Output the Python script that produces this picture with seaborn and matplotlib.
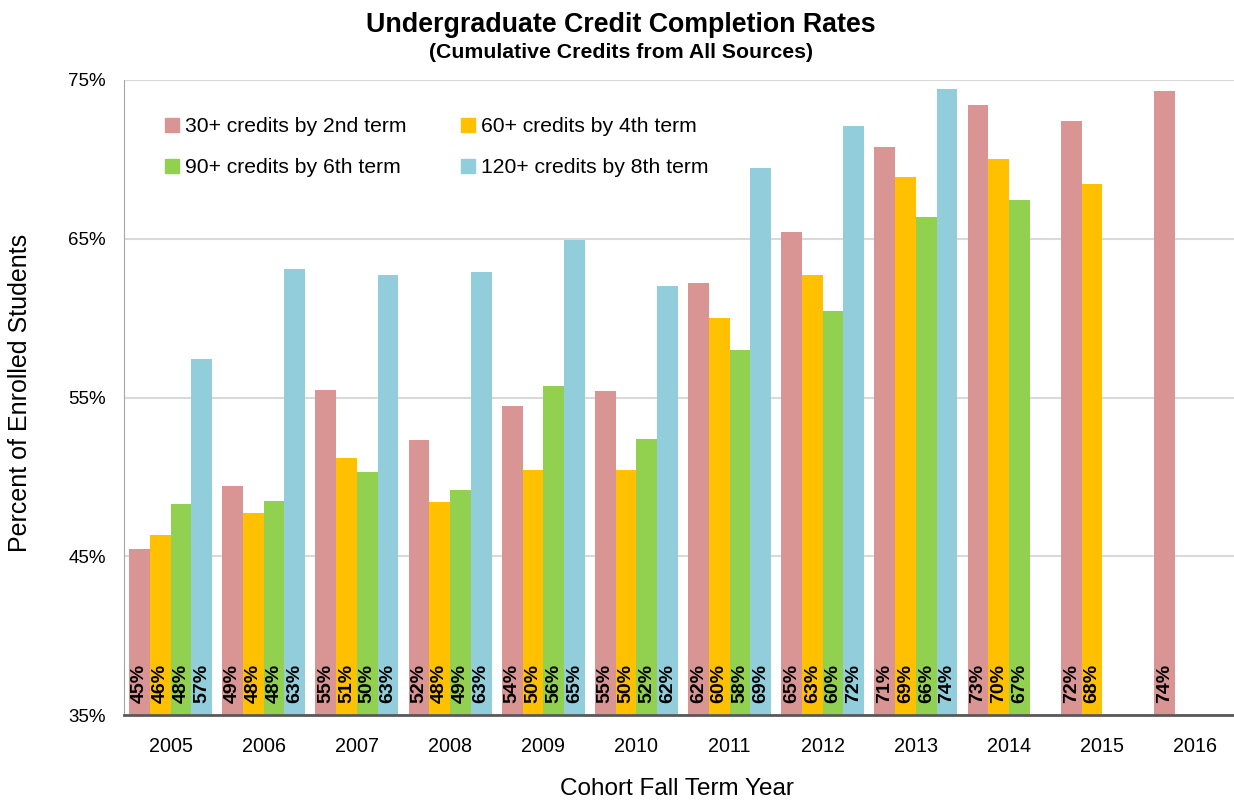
import numpy as np
import pandas as pd
import matplotlib
matplotlib.use('Agg')
import matplotlib.pyplot as plt
from matplotlib.patches import Patch
import seaborn as sns

years = ['2005', '2006', '2007', '2008', '2009', '2010',
         '2011', '2012', '2013', '2014', '2015', '2016']
series = ['30+ credits by 2nd term', '60+ credits by 4th term',
          '90+ credits by 6th term', '120+ credits by 8th term']
s30 = [45.45, 49.4, 55.45, 52.3, 54.45, 55.4, 62.2, 65.45, 70.8, 73.45, 72.4, 74.3]
s60 = [46.35, 47.7, 51.2, 48.4, 50.45, 50.45, 60.0, 62.7, 68.9, 70.0, 68.45, None]
s90 = [48.3, 48.45, 50.3, 49.2, 55.75, 52.4, 58.0, 60.45, 66.4, 67.45, None, None]
s120 = [57.45, 63.1, 62.7, 62.9, 64.9, 62.0, 69.45, 72.1, 74.45, None, None, None]
colors = ['#D99594', '#FFC000', '#92D050', '#92CDDC']

df = pd.DataFrame({'year': years * 4,
                   'series': np.repeat(series, len(years)),
                   'pct': s30 + s60 + s90 + s120}).dropna()

sns.set_style('white')
plt.rcParams['font.family'] = ['Liberation Sans', 'DejaVu Sans']
plt.rcParams['text.color'] = 'black'
plt.rcParams['xtick.color'] = 'black'
plt.rcParams['ytick.color'] = 'black'

fig = plt.figure(figsize=(12.34, 8.02), dpi=100)
ax = fig.add_axes([124/1234, 87/802, (1242-124)/1234, 635/802])

sns.barplot(data=df, x='year', y='pct', hue='series', order=years,
            hue_order=series, palette=colors, width=0.89, gap=0,
            saturation=1, linewidth=0, ax=ax, legend=False)

# value labels, rotated, sitting at the bottom of each bar
for cont in ax.containers:
    for bar in cont:
        h = bar.get_height()
        if np.isnan(h):
            continue
        ax.text(bar.get_x() + bar.get_width()/2, 35.75, f'{h:.0f}%',
                rotation=90, ha='center', va='bottom', fontsize=14,
                fontweight='bold', color='black')

ax.set_ylim(35, 75)
ax.set_xlim(-0.5, 11.5)
ax.set_yticks([35, 45, 55, 65, 75])
ax.set_yticklabels([f'{t}%' for t in [35, 45, 55, 65, 75]], fontsize=13.5)
ax.yaxis.grid(True, color='#D9D9D9', linewidth=1.5)
ax.set_axisbelow(True)
ax.tick_params(axis='y', length=5, color='#A0A0A0', pad=8)
ax.tick_params(axis='x', which='major', length=0, pad=16, labelsize=14.2)
ax.set_xticks(np.arange(-0.5, 11.6, 1), minor=True)
ax.tick_params(axis='x', which='minor', length=6, color='#404040', width=1.2)
ax.set_xlabel('')
ax.set_ylabel('')
for s in ['top', 'right']:
    ax.spines[s].set_visible(False)
ax.spines['left'].set_color('#A6A6A6')
ax.spines['bottom'].set_color('#595959')
ax.spines['bottom'].set_linewidth(2)

handles = [Patch(color=c) for c in colors]
order = [0, 2, 1, 3]
ax.legend([handles[i] for i in order], [series[i] for i in order], ncol=2,
          loc='upper left', bbox_to_anchor=(0.029, 0.955), frameon=False,
          fontsize=15.2, handlelength=0.65, handleheight=0.65, handletextpad=0.3,
          labelspacing=1.05, columnspacing=2.6, borderaxespad=0)

fig.text(0.503, 0.969, 'Undergraduate Credit Completion Rates', ha='center',
         va='center', fontsize=19.3, fontweight='bold')
fig.text(0.503, 0.935, '(Cumulative Credits from All Sources)', ha='center',
         va='center', fontsize=15.3, fontweight='bold')
fig.text(20/1234, 1 - 393/802, 'Percent of Enrolled Students', rotation=90,
         ha='center', va='center', fontsize=18)
fig.text(677/1234, 1 - 789/802, 'Cohort Fall Term Year', ha='center',
         va='center', fontsize=17.5)

fig.savefig('out.png', dpi=100)
